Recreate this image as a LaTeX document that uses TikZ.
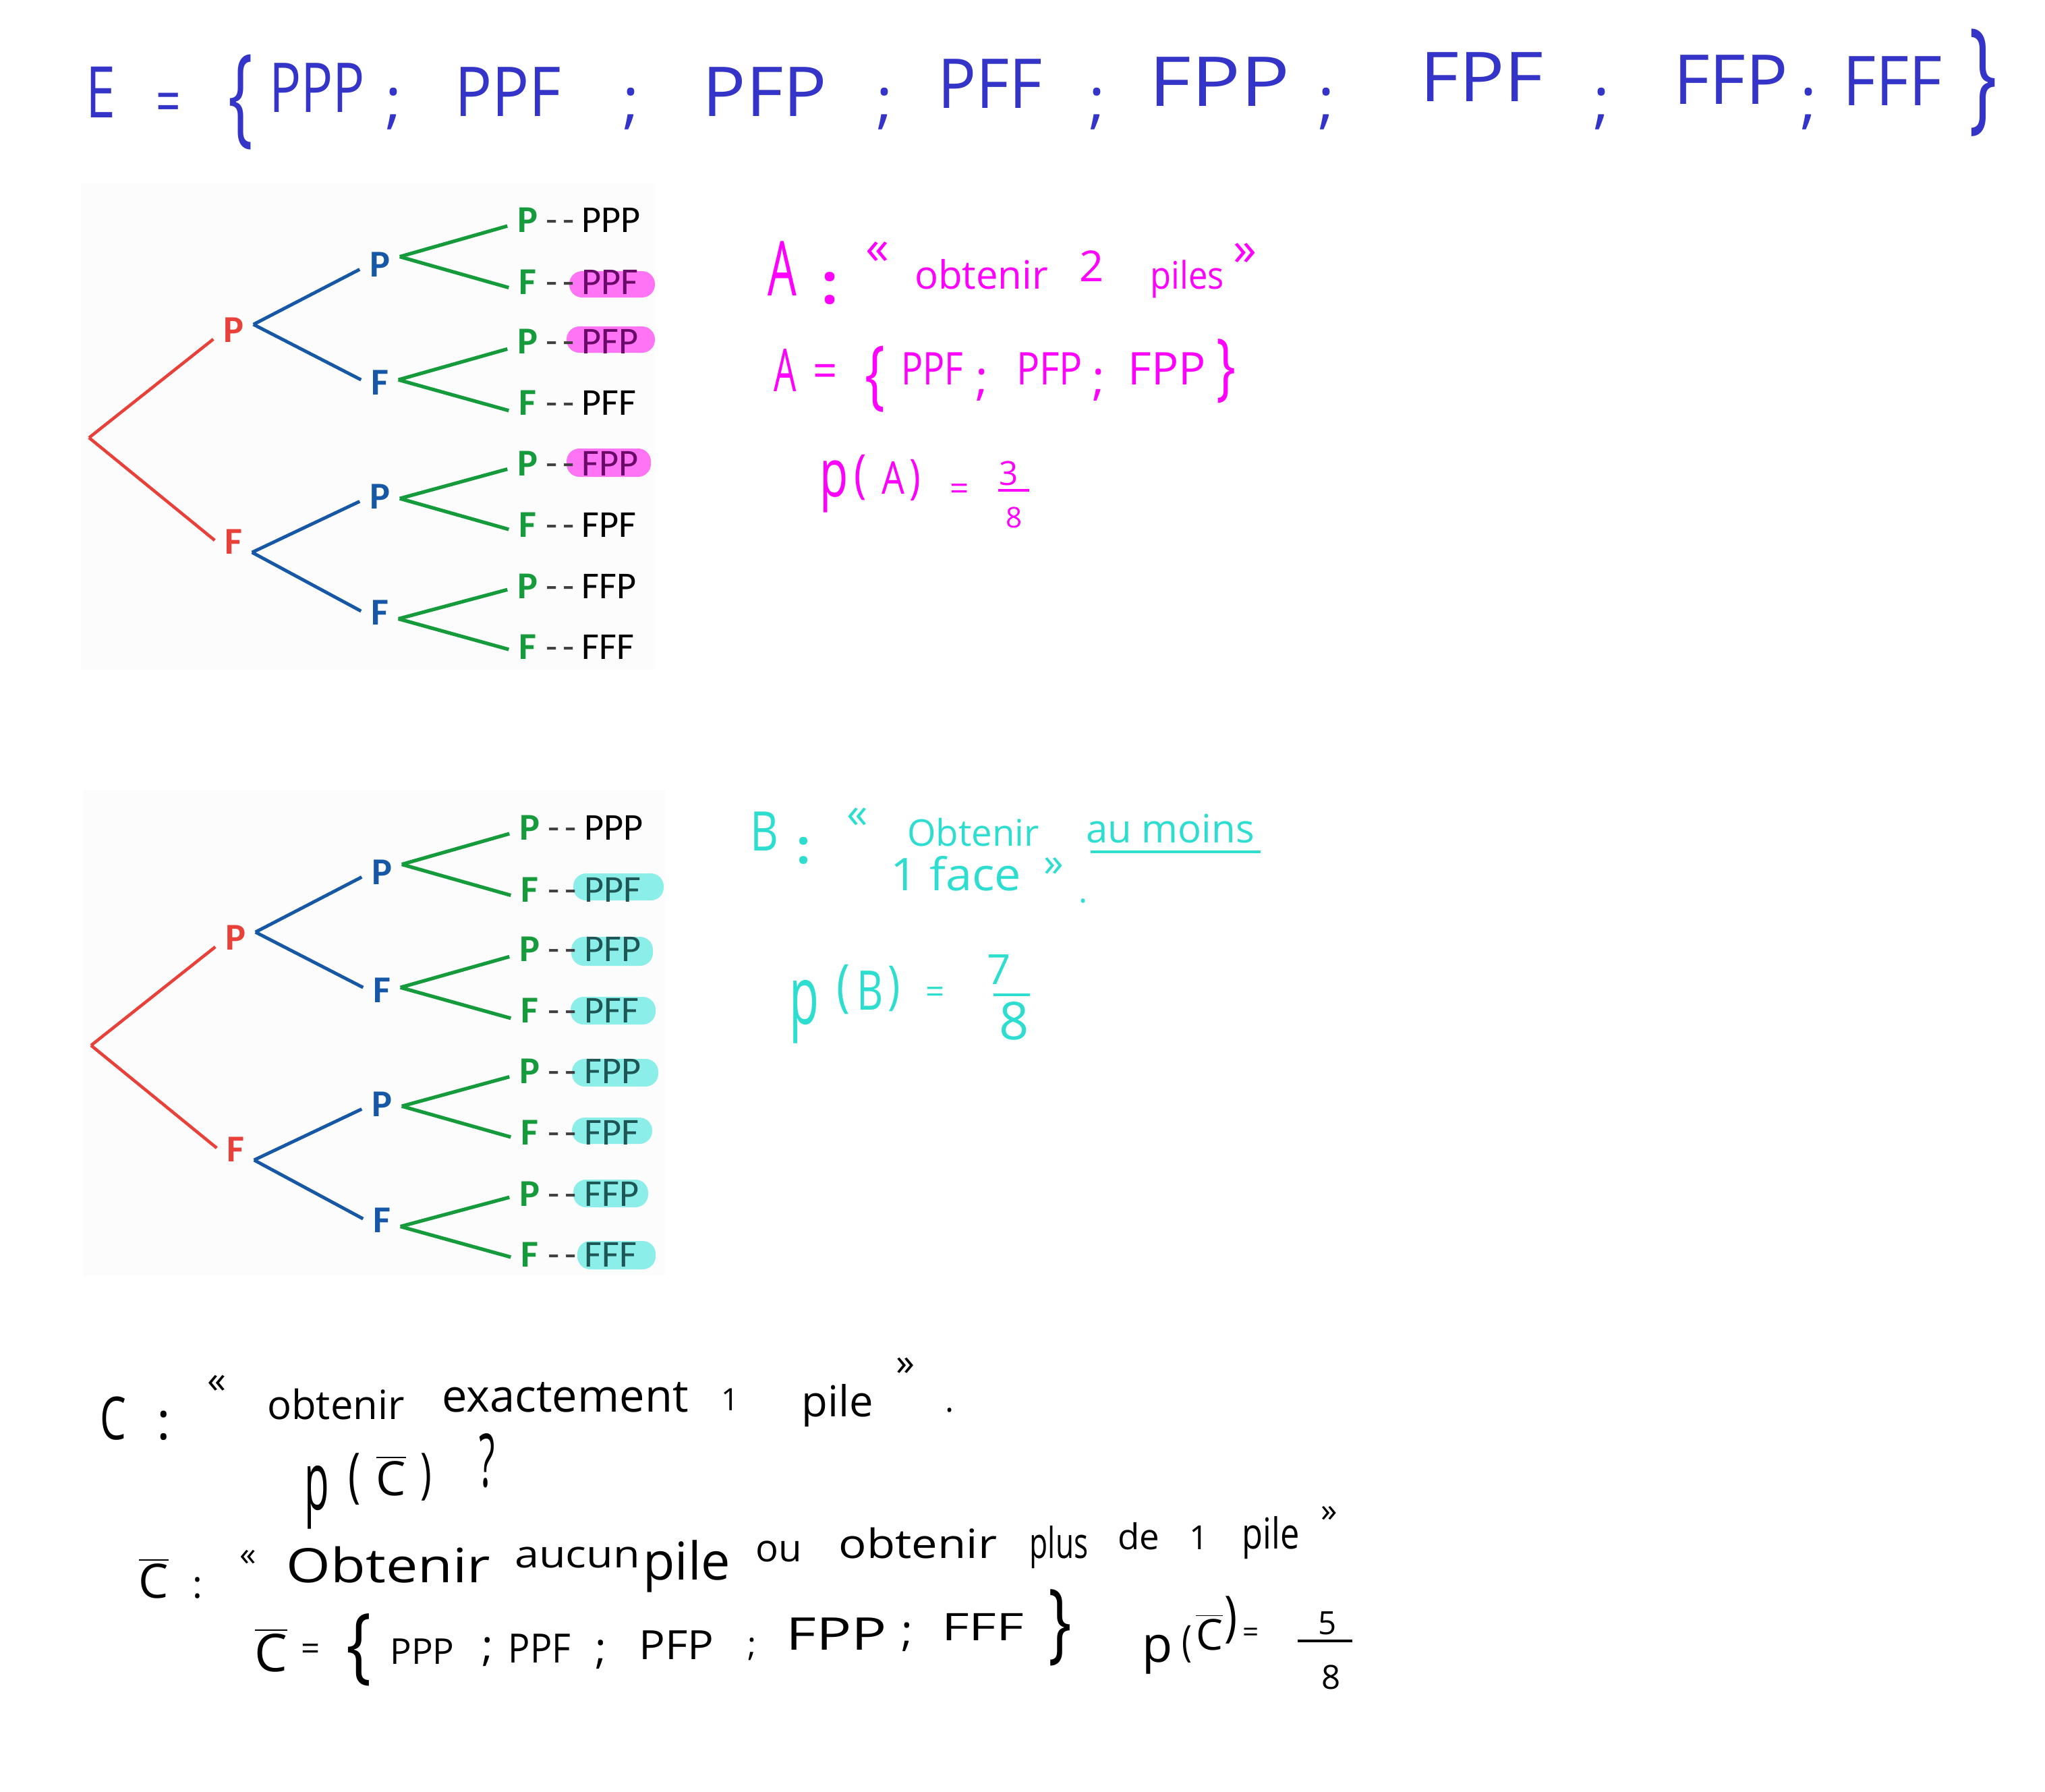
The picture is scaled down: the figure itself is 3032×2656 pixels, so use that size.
\documentclass[tikz,border=0pt]{standalone}
\usepackage{fontspec}
\usepackage{graphicx}
\newfontfamily\carlito{Carlito}
\newfontfamily\hand{Open Sans}
\definecolor{tred}{RGB}{232,65,58}
\definecolor{tblue}{RGB}{22,88,165}
\definecolor{tgreen}{RGB}{22,155,60}
\definecolor{hblue}{RGB}{52,52,200}
\definecolor{hpink}{RGB}{255,0,255}
\definecolor{hcyan}{RGB}{45,222,208}
\definecolor{hlpink}{RGB}{255,115,245}
\definecolor{hlcyan}{RGB}{140,238,232}
\definecolor{pinktext}{RGB}{105,10,105}
\definecolor{cyantext}{RGB}{30,85,85}
\newcommand\hs[3]{\scalebox{#2}[1]{\fontsize{#1}{#1}\selectfont #3}}
\newcommand\Cbar{\ensuremath{\overline{\mbox{C}}}}
\tikzset{
  tl/.style={font=\carlito\bfseries\fontsize{16}{16}\selectfont, inner xsep=4pt, inner ysep=2pt},
  dashlbl/.style={font=\carlito\fontsize{16}{16}\selectfont, text=black!75, inner sep=0pt, anchor=base},
  outc/.style={font=\carlito\fontsize{16}{16}\selectfont, inner sep=0pt, anchor=west},
  redline/.style={draw=tred, line width=1.3pt},
  blueline/.style={draw=tblue, line width=1.4pt},
  greenline/.style={draw=tgreen, line width=1.5pt},
  hw/.style={inner sep=0pt, font=\hand},
}
\newcommand\dd{-\hspace{0.14em}-}
\newcommand\mytree[2]{%
\begin{scope}[shift={#2}]
\coordinate (#1r) at (132,649);
\node[tl,text=tred] (#1a) at (346,489) {P};
\node[tl,text=tred] (#1b) at (346,803) {F};
\node[tl,text=tblue] (#1aa) at (563,392) {P};
\node[tl,text=tblue] (#1ab) at (563,567) {F};
\node[tl,text=tblue] (#1ba) at (563,736) {P};
\node[tl,text=tblue] (#1bb) at (563,908) {F};
\node[tl,text=tgreen] (#1l1) at (782,326) {P};
\node[tl,text=tgreen] (#1l2) at (782,418) {F};
\node[tl,text=tgreen] (#1l3) at (782,506) {P};
\node[tl,text=tgreen] (#1l4) at (782,597) {F};
\node[tl,text=tgreen] (#1l5) at (782,687) {P};
\node[tl,text=tgreen] (#1l6) at (782,778) {F};
\node[tl,text=tgreen] (#1l7) at (782,869) {P};
\node[tl,text=tgreen] (#1l8) at (782,959) {F};
\node[dashlbl] (#1d1) at (831,344) {\dd};
\node[dashlbl] (#1d2) at (831,436) {\dd};
\node[dashlbl] (#1d3) at (831,524) {\dd};
\node[dashlbl] (#1d4) at (831,615) {\dd};
\node[dashlbl] (#1d5) at (831,705) {\dd};
\node[dashlbl] (#1d6) at (831,796) {\dd};
\node[dashlbl] (#1d7) at (831,887) {\dd};
\node[dashlbl] (#1d8) at (831,977) {\dd};
\draw[redline] (#1r) -- (#1a.205);
\draw[redline] (#1r) -- (#1b.176);
\draw[blueline] (#1a.15) -- (#1aa.194);
\draw[blueline] (#1a.15) -- (#1ab.172);
\draw[blueline] (#1b.-30) -- (#1ba.194);
\draw[blueline] (#1b.-30) -- (#1bb.176);
\draw[greenline] (#1aa.21) -- (#1l1.197);
\draw[greenline] (#1aa.21) -- (#1l2.197);
\draw[greenline] (#1ab.8) -- (#1l3.201);
\draw[greenline] (#1ab.8) -- (#1l4.203);
\draw[greenline] (#1ba.-6) -- (#1l5.196);
\draw[greenline] (#1ba.-6) -- (#1l6.194);
\draw[greenline] (#1bb.-19) -- (#1l7.190);
\draw[greenline] (#1bb.-19) -- (#1l8.188);
\end{scope}}
\begin{document}
\begin{tikzpicture}[x=0.01cm,y=-0.01cm]
\fill[white] (0,0) rectangle (3032,2656);
\useasboundingbox (0,0) rectangle (3032,2656);
% faint backgrounds of pasted trees
\fill[black!1] (120,272) rectangle (972,993);
\fill[black!1] (123,1172) rectangle (986,1891);
% highlights
\fill[hlpink, rounded corners=0.19cm] (844,402) rectangle (971,441);
\fill[hlpink, rounded corners=0.19cm] (840,484) rectangle (971,523);
\fill[hlpink, rounded corners=0.19cm] (840,665) rectangle (965,707);
\fill[hlcyan, rounded corners=0.19cm] (850,1295) rectangle (984,1335);
\fill[hlcyan, rounded corners=0.19cm] (847,1389) rectangle (968,1432);
\fill[hlcyan, rounded corners=0.19cm] (846,1478) rectangle (972,1519);
\fill[hlcyan, rounded corners=0.19cm] (848,1570) rectangle (976,1611);
\fill[hlcyan, rounded corners=0.19cm] (848,1657) rectangle (967,1696);
\fill[hlcyan, rounded corners=0.19cm] (850,1749) rectangle (961,1790);
\fill[hlcyan, rounded corners=0.19cm] (856,1840) rectangle (972,1882);
% trees
\mytree{T}{(0,0)}
\mytree{U}{(3,901)}
% outcomes tree 1
\node[outc,text=black] (To1) at (862,326) {PPP};
\node[outc,text=pinktext] (To2) at (862,418) {PPF};
\node[outc,text=pinktext] (To3) at (862,506) {PFP};
\node[outc,text=black] (To4) at (862,597) {PFF};
\node[outc,text=pinktext] (To5) at (862,687) {FPP};
\node[outc,text=black] (To6) at (862,778) {FPF};
\node[outc,text=black] (To7) at (862,869) {FFP};
\node[outc,text=black] (To8) at (862,959) {FFF};
% outcomes tree 2
\node[outc,text=black] (Uo1) at (866,1227) {PPP};
\node[outc,text=cyantext] (Uo2) at (866,1319) {PPF};
\node[outc,text=cyantext] (Uo3) at (866,1407) {PFP};
\node[outc,text=cyantext] (Uo4) at (866,1498) {PFF};
\node[outc,text=cyantext] (Uo5) at (866,1588) {FPP};
\node[outc,text=cyantext] (Uo6) at (866,1679) {FPF};
\node[outc,text=cyantext] (Uo7) at (866,1770) {FFP};
\node[outc,text=cyantext] (Uo8) at (866,1860) {FFF};
% ---------- top line (blue)
\begin{scope}[every node/.style={hw,text=hblue}]
\node[anchor=base] (topE) at (150,174) {\hs{30}{0.75}{E}};
\node (topEq) at (250,160) {\hs{26}{0.7}{=}};
\node (topLb) at (357,152) {\hs{46}{0.6}{\{}};
\node[anchor=base] (top1) at (470,166) {\hs{29}{0.77}{PPP}};
\node[anchor=base] (tops1) at (584,180) {\hs{26}{1}{;}};
\node[anchor=base] (top2) at (753,172) {\hs{29}{0.9}{PPF}};
\node[anchor=base] (tops2) at (936,180) {\hs{26}{1}{;}};
\node[anchor=base] (top3) at (1134,172) {\hs{29}{1.05}{PFP}};
\node[anchor=base] (tops3) at (1312,180) {\hs{26}{1}{;}};
\node[anchor=base] (top4) at (1468,160) {\hs{29}{0.93}{PFF}};
\node[anchor=base] (tops4) at (1627,180) {\hs{26}{1}{;}};
\node[anchor=base] (top5) at (1808,157) {\hs{29}{1.19}{FPP}};
\node[anchor=base] (tops5) at (1967,180) {\hs{26}{1}{;}};
\node[anchor=base] (top6) at (2197,150) {\hs{29}{1.1}{FPF}};
\node[anchor=base] (tops6) at (2375,180) {\hs{26}{1}{;}};
\node[anchor=base] (top7) at (2566,154) {\hs{29}{1.02}{FFP}};
\node[anchor=base] (tops7) at (2682,180) {\hs{26}{1}{;}};
\node[anchor=base] (top8) at (2806,156) {\hs{29}{0.93}{FFF}};
\node (topRb) at (2940,123) {\hs{52}{0.6}{\}}};
\end{scope}
% ---------- event A (pink)
\begin{scope}[every node/.style={hw,text=hpink}]
\node[anchor=base] (aA) at (1160,438) {\hs{32}{0.6}{A}};
\node[anchor=base] (aColon) at (1231,450) {\hs{24}{1}{\bfseries :}};
\node (aLq) at (1301,375) {\hs{20}{1}{«}};
\node[anchor=base] (aObt) at (1455,428) {\hs{16.5}{1}{obtenir}};
\node[anchor=base] (aTwo) at (1619,417) {\hs{18}{1}{2}};
\node[anchor=base] (aPiles) at (1760,428) {\hs{16}{0.9}{piles}};
\node (aRq) at (1846,377) {\hs{20}{1}{»}};
\node[anchor=base] (bA) at (1164,580) {\hs{25}{0.6}{A}};
\node (bEq) at (1224,557) {\hs{20}{0.9}{=}};
\node (bLb) at (1297,562) {\hs{32}{0.7}{\{}};
\node[anchor=base] (b1) at (1382,570) {\hs{19}{0.8}{PPF}};
\node[anchor=base] (bs1) at (1456,585) {\hs{20}{1}{;}};
\node[anchor=base] (b2) at (1556,570) {\hs{19}{0.85}{PFP}};
\node[anchor=base] (bs2) at (1629,585) {\hs{20}{1}{;}};
\node[anchor=base] (b3) at (1730,570) {\hs{19}{1}{FPP}};
\node (bRb) at (1818,550) {\hs{31}{0.7}{\}}};
\node[anchor=base] (cp) at (1237,736) {\hs{28}{0.7}{p}};
\node (cLp) at (1276,708) {\hs{22}{0.8}{(}};
\node[anchor=base] (cA) at (1324,732) {\hs{19}{0.8}{A}};
\node (cRp) at (1357,712) {\hs{20}{0.8}{)}};
\node (cEq) at (1423,730) {\hs{14}{1}{=}};
\node (cNum) at (1496,702) {\hs{14}{1}{3}};
\node (cDen) at (1504,767) {\hs{12}{1}{8}};
\end{scope}
\draw[hpink, line width=1.2pt] (1480,727) -- (1526,727);
% ---------- event B (cyan)
\begin{scope}[every node/.style={hw,text=hcyan}]
\node[anchor=base] (dB) at (1133,1261) {\hs{23}{0.8}{B}};
\node[anchor=base] (dColon) at (1192,1280) {\hs{20}{1}{\bfseries :}};
\node (dLq) at (1271,1213) {\hs{18}{1}{«}};
\node[anchor=base] (dObt) at (1443,1254) {\hs{15.5}{1}{Obtenir}};
\node[anchor=base] (dAu) at (1735,1249) {\hs{16.5}{1}{au moins}};
\node[anchor=base] (dFace) at (1417,1320) {\hs{19}{1.05}{1 face}};
\node (dRq) at (1562,1285) {\hs{17}{1}{»}};
\node[anchor=base] (dDot) at (1606,1338) {\hs{14}{1}{.}};
\node[anchor=base] (ep) at (1192,1518) {\hs{34}{0.6}{p}};
\node (eLp) at (1250,1467) {\hs{24}{0.8}{(}};
\node[anchor=base] (eB) at (1290,1497) {\hs{23}{0.75}{B}};
\node (eRp) at (1326,1466) {\hs{22}{0.8}{)}};
\node (eEq) at (1387,1476) {\hs{14}{1}{=}};
\node (eNum) at (1481,1438) {\hs{17.5}{1}{7}};
\node (eDen) at (1504,1514) {\hs{22}{1}{8}};
\end{scope}
\draw[hcyan, line width=1.1pt] (1617,1263) -- (1869,1263);
\draw[hcyan, line width=1.1pt] (1473,1475) -- (1527,1475);
% ---------- event C (black)
\begin{scope}[every node/.style={hw,text=black}]
\node[anchor=base] (fC) at (168,2134) {\hs{25}{0.7}{C}};
\node[anchor=base] (fColon) at (243,2134) {\hs{22}{1}{:}};
\node (fLq) at (321,2052) {\hs{16}{1}{«}};
\node[anchor=base] (fObt) at (498,2104) {\hs{17}{1}{obtenir}};
\node[anchor=base] (fExa) at (838,2093) {\hs{19}{1}{exactement}};
\node[anchor=base] (f1) at (1083,2091) {\hs{13}{1}{1}};
\node[anchor=base] (fPile) at (1242,2100) {\hs{18}{1}{pile}};
\node (fRq) at (1342,2026) {\hs{16}{1}{»}};
\node[anchor=base] (fDot) at (1408,2093) {\hs{14}{1}{.}};
\node[anchor=base] (gp) at (470,2238) {\hs{34}{0.5}{p}};
\node (gLp) at (526,2193) {\hs{25}{0.7}{(}};
\node[anchor=base] (gC) at (580,2217) {\hs{20}{1}{\Cbar}};
\node (gRp) at (632,2190) {\hs{23}{0.7}{)}};
\node[anchor=base] (gQ) at (722,2204) {\hs{31}{0.5}{?}};
\node[anchor=base] (hC) at (228,2369) {\hs{20}{1}{\Cbar}};
\node[anchor=base] (hColon) at (293,2369) {\hs{16}{1}{:}};
\node (hLq) at (368,2310) {\hs{14}{1}{«}};
\node[anchor=base] (hObt) at (576,2346) {\hs{20}{1.2}{Obtenir}};
\node[anchor=base] (hAuc) at (856,2324) {\hs{16}{1.15}{aucun}};
\node[anchor=base] (hPile) at (1018,2342) {\hs{22}{1}{pile}};
\node[anchor=base] (hOu) at (1155,2315) {\hs{16}{1}{ou}};
\node[anchor=base] (hObt2) at (1361,2310) {\hs{17}{1.15}{obtenir}};
\node[anchor=base] (hPlus) at (1570,2310) {\hs{18}{0.7}{plus}};
\node[anchor=base] (hDe) at (1688,2297) {\hs{15}{1}{de}};
\node[anchor=base] (h1) at (1778,2297) {\hs{14}{1}{1}};
\node[anchor=base] (hPile2) at (1884,2296) {\hs{18}{0.8}{pile}};
\node (hRq) at (1971,2245) {\hs{14}{1}{»}};
\node[anchor=base] (iC) at (402,2478) {\hs{22}{1}{\Cbar}};
\node (iEq) at (461,2450) {\hs{14}{1}{=}};
\node (iLb) at (532,2446) {\hs{35}{0.8}{\{}};
\node[anchor=base] (i1) at (626,2467) {\hs{15}{1}{PPP}};
\node[anchor=base] (is1) at (723,2462) {\hs{18}{1}{;}};
\node[anchor=base] (i2) at (800,2465) {\hs{17}{0.9}{PPF}};
\node[anchor=base] (is2) at (891,2466) {\hs{18}{1}{;}};
\node[anchor=base] (i3) at (1003,2460) {\hs{17}{1.08}{PFP}};
\node[anchor=base] (is3) at (1115,2455) {\hs{14}{1}{;}};
\node[anchor=base] (i4) at (1240,2446) {\hs{19}{1.3}{FPP}};
\node[anchor=base] (is4) at (1345,2440) {\hs{18}{1}{;}};
\node[anchor=base] (i5) at (1457,2432) {\hs{16}{1.4}{FFF}};
\node (iRb) at (1572,2413) {\hs{37}{0.7}{\}}};
\node[anchor=base] (ip) at (1716,2464) {\hs{21}{1}{p}};
\node (iLp) at (1760,2438) {\hs{18}{0.8}{(}};
\node[anchor=base] (iC2) at (1793,2446) {\hs{18}{1}{\Cbar}};
\node (iRp) at (1825,2402) {\hs{23}{0.8}{)}};
\node (iEq2) at (1855,2424) {\hs{12}{1}{=}};
\node (iNum) at (1968,2407) {\hs{13.5}{1}{5}};
\node (iDen) at (1974,2487) {\hs{14}{1}{8}};
\end{scope}
\draw[black, line width=1.1pt] (1924,2433) -- (2005,2433);
\end{tikzpicture}
\end{document}
